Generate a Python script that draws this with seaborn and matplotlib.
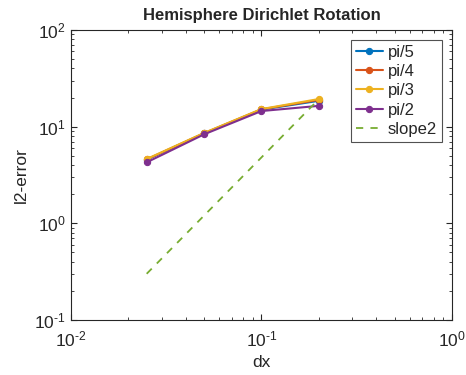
import numpy as np
import pandas as pd
import matplotlib
matplotlib.use('Agg')
import matplotlib.pyplot as plt
from matplotlib.ticker import FuncFormatter, LogLocator
import seaborn as sns

sns.set_style('ticks')
plt.rcParams['font.family'] = ['Liberation Sans', 'DejaVu Sans']
plt.rcParams['mathtext.fontset'] = 'custom'
plt.rcParams['mathtext.rm'] = 'Liberation Sans'
plt.rcParams['mathtext.it'] = 'Liberation Sans'

dx = [0.025, 0.05, 0.1, 0.2]
err_pi5 = [4.55, 8.5, 15.0, 18.5]
err_pi4 = [4.58, 8.55, 15.1, 18.9]
err_pi3 = [4.62, 8.6, 15.2, 19.3]
err_pi2 = [4.27, 8.32, 14.5, 16.4]
slope2 = [0.3, 1.2, 4.8, 19.2]

labels = ['pi/5', 'pi/4', 'pi/3', 'pi/2']
colors = ['#0072BD', '#D95319', '#EDB120', '#7E2F8E']
series = [err_pi5, err_pi4, err_pi3, err_pi2]

fig = plt.figure(figsize=(4.66, 3.75), dpi=100)
ax = fig.add_axes([0.152, 0.147, 0.818, 0.773])

for lab, col, vals in zip(labels, colors, series):
    d = pd.DataFrame({'dx': dx, 'err': vals})
    sns.lineplot(data=d, x='dx', y='err', ax=ax, color=col, marker='o',
                 markersize=4.5, markeredgecolor=col, linewidth=1.5, label=lab)

d = pd.DataFrame({'dx': dx, 'err': slope2})
sns.lineplot(data=d, x='dx', y='err', ax=ax, color='#77AC30', linestyle='--',
             linewidth=1.3, label='slope2')
ax.lines[-1].set_dashes((4, 4))

ax.set_xscale('log')
ax.set_yscale('log')
ax.set_xlim(1e-2, 1e0)
ax.set_ylim(1e-1, 1e2)


def pow_fmt(v, pos):
    e = int(round(np.log10(v)))
    return r'$10^{\text{%d}}$' % e


ax.xaxis.set_major_locator(LogLocator(base=10))
ax.yaxis.set_major_locator(LogLocator(base=10))
ax.xaxis.set_major_formatter(FuncFormatter(pow_fmt))
ax.yaxis.set_major_formatter(FuncFormatter(pow_fmt))

gray = '#262626'
for s in ax.spines.values():
    s.set_visible(True)
    s.set_color(gray)
    s.set_linewidth(0.8)
ax.tick_params(which='both', direction='in', top=True, right=True,
               colors=gray, labelsize=12.5)
ax.tick_params(which='major', length=4)
ax.tick_params(which='minor', length=2)
ax.tick_params(axis='x', pad=7)

ax.set_xlabel('dx', fontsize=12.5, color=gray)
ax.set_ylabel('l2-error', fontsize=12.5, color=gray)
ax.set_title('Hemisphere Dirichlet Rotation', fontsize=12, fontweight='bold', pad=7)

leg = ax.legend(loc='upper right', fontsize=12, frameon=True, fancybox=False,
                edgecolor=gray, handlelength=1.6, borderaxespad=0.6,
                labelspacing=0.25, handletextpad=0.3, borderpad=0.3)
leg.get_frame().set_linewidth(0.8)

fig.savefig('out.png', dpi=100)
